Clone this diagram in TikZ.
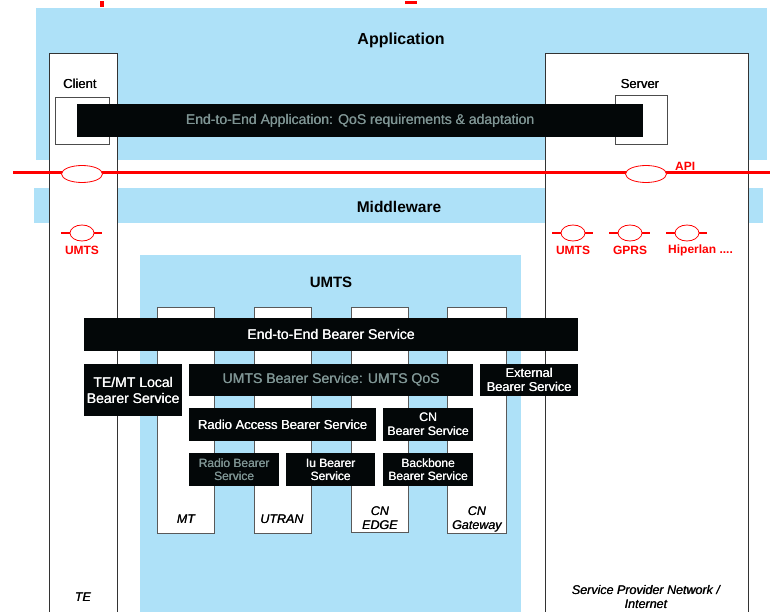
\documentclass[tikz,border=0pt]{standalone}
\usepackage{fontspec}
\setmainfont{Liberation Sans}
\newcommand\hv[1]{\leavevmode\rlap{#1}\kern0.35pt\relax#1}
\usetikzlibrary{shapes.geometric}
\definecolor{lb}{HTML}{AEE1F8}
\definecolor{bk}{HTML}{030708}
\definecolor{gt}{HTML}{7F9594}
\definecolor{rd}{HTML}{FF0000}
\begin{document}
\begin{tikzpicture}[x=1pt,y=-1pt,
  band/.style={fill=lb,draw=none,inner sep=0,anchor=north west},
  host/.style={draw=black!80,fill=white,line width=1pt,inner sep=0,anchor=north west},
  col/.style={draw=black!65,fill=white,line width=1pt,inner sep=0,anchor=north west},
  bar/.style={fill=bk,draw=none,text=white,align=center,inner sep=0,anchor=north west,
    font=\fontsize{14}{16}\selectfont},
  gbar/.style={bar,text=gt},
  title/.style={font=\fontsize{16}{18}\selectfont\bfseries},
  hostlbl/.style={font=\fontsize{13}{14}\selectfont},
  collbl/.style={font=\fontsize{12.5}{14}\selectfont\itshape,align=center},
  rlbl/.style={text=rd,font=\fontsize{12}{14}\selectfont\bfseries},
  port/.style={ellipse,draw=rd,fill=white,line width=0.8pt,inner sep=0},
  api/.style={draw=rd,line width=3pt},
  stub/.style={draw=rd,line width=2.5pt},
  frag/.style={fill=rd,draw=none,inner sep=0,anchor=north west}]
\useasboundingbox (0,0) rectangle (770,612);
\begin{scope}
\clip (0,0) rectangle (770,612);
% bands
\node[band,minimum width=731,minimum height=152] (appband) at (36,8) {};
\node[band,minimum width=729,minimum height=35] (mwband) at (34,188) {};
\node[band,minimum width=381,minimum height=360] (umtsband) at (140,255) {};
% hosts
\node[host,minimum width=68,minimum height=590] (client) at (49,53) {};
\node[host,minimum width=203,minimum height=590] (server) at (545,53) {};
\end{scope}
% cut-off red title fragments (kept clear of the page edge)
\node[frag,minimum width=4,minimum height=6] (fragp) at (100,1) {};
\node[frag,minimum width=12,minimum height=3] (fragg) at (405,1) {};
\node[host,minimum width=54,minimum height=47,draw=black!70] (cin) at (55,97) {};
\node[host,minimum width=52,minimum height=49,draw=black!70] (sin) at (615,95) {};
% titles
\node[title] (apptxt) at (401,40) {Application};
\node[title,font=\fontsize{15.5}{18}\selectfont\bfseries] (mwtxt) at (399,207) {Middleware};
\node[title,font=\fontsize{15}{18}\selectfont\bfseries] (umtstxt) at (331,282) {UMTS};
\node[hostlbl] (clienttxt) at (80,84) {\hv{Client}};
\node[hostlbl] (servertxt) at (640,84) {\hv{Server}};
% application bar
\node[gbar,minimum width=566,minimum height=33] (e2eapp) at (77,104) {\hv{End-to-End Application: QoS requirements \& adaptation}};
% API line
\coordinate (apil) at (13,173);
\coordinate (apir) at (770,173);
\draw[api] (apil) -- (apir);
\node[port,minimum width=41,minimum height=17] (cport) at (82,174) {};
\node[port,minimum width=41,minimum height=17] (sport) at (646,174) {};
\node[rlbl,anchor=west,inner sep=0] (apitxt) at (675,166) {API};
% interface stubs
\foreach \n/\x/\t in {cu/82/UMTS,su/573/UMTS,sg/630/GPRS}{
  \coordinate (\n l) at (\x-21,233);
  \coordinate (\n r) at (\x+20,233);
  \draw[stub] (\n l) -- (\n r);
  \node[port,minimum width=24,minimum height=16] (\n p) at (\x,233) {};
  \node[rlbl] (\n t) at (\x,250) {\t};
}
\coordinate (shl) at (666,233);
\coordinate (shr) at (707,233);
\draw[stub] (shl) -- (shr);
\node[port,minimum width=24,minimum height=16] (shp) at (687,233) {};
\node[rlbl,anchor=west,inner sep=0] (sht) at (668,250) {Hiperlan ....};
% UMTS columns
\node[col,minimum width=57,minimum height=226] (mt) at (157,307) {};
\node[col,minimum width=57,minimum height=226] (utran) at (254,307) {};
\node[col,minimum width=57,minimum height=225] (cnedge) at (351,307) {};
\node[col,minimum width=59,minimum height=226] (cngw) at (447,307) {};
\node[collbl] (mttxt) at (186,519) {\hv{MT}};
\node[collbl] (utrantxt) at (282,519) {\hv{UTRAN}};
\node[collbl] (cnedgetxt) at (380,518) {\hv{CN}\\\hv{EDGE}};
\node[collbl] (cngwtxt) at (477,519) {\hv{CN}\\\hv{Gateway}};
\node[collbl] (tetxt) at (83,597) {\hv{TE}};
\node[collbl] (sptxt) at (646,597) {\hv{Service Provider Network /}\\\hv{Internet}};
% bearer bars
\node[bar,minimum width=494,minimum height=33] (e2eb) at (84,318) {\hv{End-to-End Bearer Service}};
\node[bar,minimum width=98,minimum height=52] (temt) at (84,364) {\hv{TE/MT Local}\\\hv{Bearer Service}};
\node[gbar,minimum width=284,minimum height=32] (umtsb) at (189,364) {\hv{UMTS Bearer Service: UMTS QoS}};
\node[bar,minimum width=98,minimum height=32,font=\fontsize{12.8}{14}\selectfont] (ext) at (480,364) {\hv{External}\\\hv{Bearer Service}};
\node[bar,minimum width=187,minimum height=33,font=\fontsize{13}{14}\selectfont] (rab) at (189,408) {\hv{Radio Access Bearer Service}};
\node[bar,minimum width=90,minimum height=33,font=\fontsize{12.3}{14}\selectfont] (cnb) at (383,408) {\hv{CN}\\\hv{Bearer Service}};
\node[gbar,minimum width=90,minimum height=33,font=\fontsize{12}{13}\selectfont] (rb) at (189,453) {\hv{Radio Bearer}\\\hv{Service}};
\node[bar,minimum width=89,minimum height=33,font=\fontsize{12}{13}\selectfont] (iu) at (286,453) {\hv{Iu Bearer}\\\hv{Service}};
\node[bar,minimum width=90,minimum height=33,font=\fontsize{12}{13}\selectfont] (bb) at (383,453) {\hv{Backbone}\\\hv{Bearer Service}};
\end{tikzpicture}
\end{document}
